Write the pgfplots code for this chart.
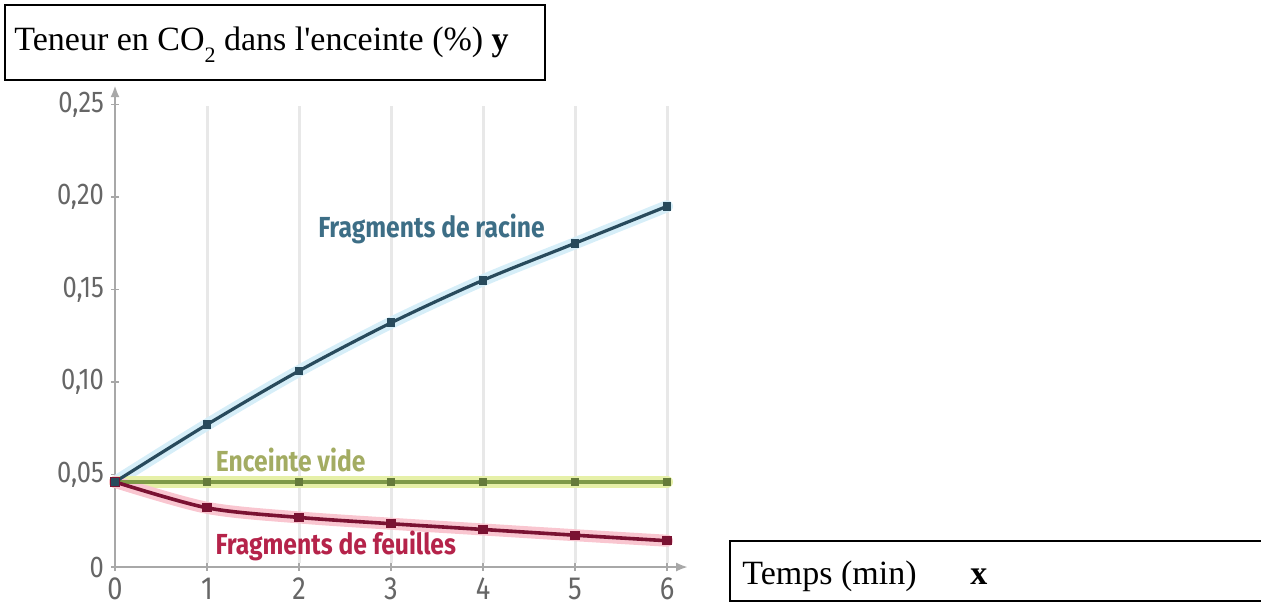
\documentclass[border=0pt]{standalone}
\usepackage{fontspec}
\setmainfont{Liberation Serif}
\newfontfamily\chartfont[FakeStretch=0.85]{Fira Sans}
\usepackage{pgfplots}
\usepackage{pgfplotstable}
\pgfplotsset{compat=1.18}
\usetikzlibrary{arrows.meta}

\definecolor{rootline}{HTML}{284A5C}
\definecolor{roothalo}{HTML}{D6EEF8}
\definecolor{rootlabel}{HTML}{3D6E86}
\definecolor{emptyline}{HTML}{7E9A48}
\definecolor{emptyhalo}{HTML}{E6F0A8}
\definecolor{emptylabel}{HTML}{A3AC62}
\definecolor{leafline}{HTML}{7A1232}
\definecolor{leafhalo}{HTML}{F9C6D0}
\definecolor{leaflabel}{HTML}{B5234A}
\definecolor{axisgray}{HTML}{A8A8A8}
\definecolor{ticktext}{HTML}{666666}
\definecolor{gridgray}{HTML}{E8E8E8}

\pgfplotstableread{
x racine vide feuilles
0 0.046 0.046 0.046
1 0.077 0.046 0.032
2 0.106 0.046 0.0268
3 0.132 0.046 0.0234
4 0.155 0.046 0.0203
5 0.175 0.046 0.0172
6 0.195 0.046 0.0142
}\codata

\begin{document}
\begin{tikzpicture}
\useasboundingbox (0,0) rectangle (630.5pt,-303.5pt);
\begin{axis}[
  at={(57.5pt,-283.5pt)}, anchor=south west,
  x=46pt, y=925pt,
  xmin=0, xmax=6.23, ymin=0, ymax=0.2605,
  axis lines=left,
  axis line style={draw=axisgray, line width=1.2pt, -{Latex[length=6pt,width=4.5pt]}},
  xtick={0,1,2,3,4,5,6},
  xticklabels={0,1,2,3,4,5,6},
  ytick={0,0.05,0.1,0.15,0.2,0.25},
  yticklabels={0,{0,05},{0,10},{0,15},{0,20},{0,25}},
  tick align=center,
  major tick length=4pt,
  tick style={draw=axisgray, line width=0.8pt},
  tick label style={font=\chartfont\fontsize{15}{15}\selectfont, text=ticktext},
  xticklabel style={font=\chartfont\fontsize{16}{16}\selectfont},
  /pgf/number format/assume math mode=true,
  clip=false,
]
\pgfplotsinvokeforeach{1,...,6}{
  \draw[gridgray, line width=1.5pt] (axis cs:#1,0.002) -- (axis cs:#1,0.249);
}
% halos
\addplot[roothalo, line width=6pt, smooth, line cap=round] table[x=x,y=racine]{\codata};
\addplot[emptyhalo, line width=6pt, line cap=round] table[x=x,y=vide]{\codata};
\addplot[leafhalo, line width=6pt, smooth, line cap=round] table[x=x,y=feuilles]{\codata};
% lines
\addplot[emptyline, line width=1.6pt, mark=square*, mark size=1.4pt, mark options={fill=emptyline!80!black, draw=emptyline!80!black}] table[x=x,y=vide]{\codata};
\addplot[leafline, line width=1.8pt, smooth, mark=square*, mark size=1.4pt] table[x=x,y=feuilles]{\codata};
\addplot[rootline, line width=1.6pt, smooth, mark=square*, mark size=1.4pt] table[x=x,y=racine]{\codata};
% series labels
\node[text=rootlabel, font=\chartfont\fontsize{14.5}{14.5}\selectfont\bfseries] at (axis cs:3.44,0.183) {Fragments de racine};
\node[text=emptylabel, font=\chartfont\fontsize{14.5}{14.5}\selectfont\bfseries] at (axis cs:1.91,0.058) {Enceinte vide};
\node[text=leaflabel, font=\chartfont\fontsize{14.5}{14.5}\selectfont\bfseries] at (axis cs:2.4,0.0115) {Fragments de feuilles};
\end{axis}
% title box
\draw[line width=0.8pt] (2.5pt,-2.5pt) rectangle (272.5pt,-40pt);
\node[anchor=base west, inner sep=0pt] at (7pt,-25pt) {\fontsize{17}{17}\selectfont Teneur en CO\raisebox{-6pt}{\fontsize{11}{11}\selectfont 2} dans l\textquotesingle enceinte (\%) \textbf{y}};
% x label box
\draw[line width=0.8pt] (365pt,-270.5pt) rectangle (640pt,-300.5pt);
\node[anchor=base west, inner sep=0pt] at (371pt,-292pt) {\fontsize{17}{17}\selectfont Temps (min)};
\node[anchor=base west, inner sep=0pt] at (485pt,-292pt) {\fontsize{17}{17}\selectfont\textbf{x}};
\end{tikzpicture}
\end{document}
